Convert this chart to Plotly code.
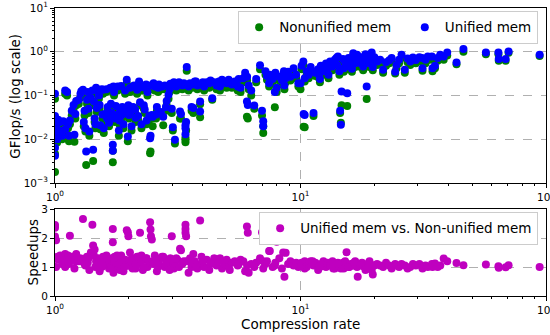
import plotly.graph_objects as go

# ---- data ----
compression_rate = [
    1.00, 1.00, 1.00, 1.00, 1.01, 1.01, 1.02, 1.03, 1.04, 1.05, 1.07, 1.08, 1.10, 1.12, 1.10, 1.13, 1.15, 1.14, 1.17, 1.19, 1.20, 1.21, 1.22, 1.25,
    1.27, 1.30, 1.31, 1.33, 1.34, 1.36, 1.37, 1.38, 1.40, 1.42, 1.43, 1.44, 1.45, 1.47, 1.48, 1.50, 1.52, 1.53, 1.55, 1.57, 1.58,
    1.60, 1.62, 1.64, 1.66, 1.68, 1.70, 1.72, 1.72, 1.73, 1.75, 1.77, 1.80, 1.82, 1.84, 1.86, 1.88, 1.90, 1.93, 1.96, 1.98, 1.99, 2.00, 2.02, 2.05, 2.08,
    2.10, 2.13, 2.16, 2.20, 2.22, 2.25, 2.28, 2.32, 2.35, 2.38, 2.42, 2.44, 2.45, 2.46, 2.48, 2.50, 2.55, 2.60, 2.65, 2.70, 2.76, 2.80, 2.85, 2.90, 2.95, 2.99, 3.02, 3.05,
    3.08, 3.15, 3.23, 3.26, 3.30, 3.40, 3.40, 3.40, 3.42, 3.44, 3.50, 3.55, 3.60, 3.66, 3.71, 3.80, 3.90, 3.90, 3.95, 4.05, 4.15, 4.25, 4.37, 4.45, 4.55, 4.65, 4.79,
    4.90, 5.00, 5.10, 5.25, 5.40, 5.55, 5.70, 5.85, 5.95, 6.05, 6.10, 6.06, 6.15, 6.30, 6.48, 6.60, 6.84, 6.97, 7.05, 7.05, 7.20, 7.30, 7.45, 7.50,
    7.70, 7.86, 7.90, 8.00, 8.20, 8.40, 8.50, 8.56, 8.60, 8.70, 8.90, 9.10, 9.37, 9.60, 9.80,
    10.0, 10.1, 10.27, 10.3, 10.4, 10.4, 10.6, 10.8, 11.0, 11.3, 11.5, 11.8, 12.0, 12.1, 12.4, 12.7, 12.9, 13.0,
    13.2, 13.5, 13.8, 14.1, 14.2, 14.4, 14.5, 14.6, 14.7, 14.9, 15.0, 15.2, 15.4, 15.5, 15.7, 16.0, 16.2, 16.4, 16.7, 17.0, 17.1, 17.4, 17.8, 18.0, 18.2, 18.6, 18.8, 19.1, 19.3, 19.5, 19.7, 19.9,
    20.5, 21.1, 21.7, 22.3, 23.0, 23.5, 24.3, 24.6, 25.2, 25.8, 26.6, 27.3, 28.0, 28.7, 29.5, 30.5, 31.3, 31.4, 32.3, 33.0, 34.3, 34.5, 35.3, 36.2, 37.1, 38.3, 39.6,
    43.2, 46.1, 56.9, 64.0, 64.2, 68.5, 70.4, 94.2,
    1.28, 1.32, 1.35, 1.46, 1.51, 1.56, 1.63, 1.69, 1.74, 1.79, 1.83, 1.87, 1.92, 2.03, 2.07, 2.12, 2.18, 2.24, 2.30, 2.36, 2.52, 2.58, 2.63,
    2.73, 2.83, 2.93, 3.12, 3.20, 3.35, 3.62, 3.75, 4.00, 4.30, 4.70, 5.15, 5.60, 11.2, 11.9, 13.6, 14.0, 15.8, 16.5, 17.6, 18.4, 19.0, 20.0,
]

gflops_nonunified = [
    0.0018, 0.0047, 0.085, 0.028, 0.016, 0.011, 0.0085, 0.022, 0.013, 0.019, 0.010, 0.020, 0.11, 0.10, 0.014, 0.018, 0.022, 0.009, 0.035, 0.050, 0.0088, 0.030, 0.060, 0.065,
    0.09, 0.11, 0.02, 0.015, 0.0026, 0.10, 0.04, 0.012, 0.07, 0.11, 0.0032, 0.060, 0.025, 0.13, 0.042, 0.10, 0.05, 0.017, 0.12, 0.11, 0.014,
    0.030, 0.12, 0.045, 0.020, 0.13, 0.033, 0.0030, 0.0055, 0.12, 0.025, 0.048, 0.13, 0.012, 0.035, 0.14, 0.045, 0.018, 0.11, 0.19, 0.009, 0.05, 0.03, 0.12, 0.016, 0.045,
    0.14, 0.025, 0.11, 0.17, 0.06, 0.018, 0.13, 0.04, 0.15, 0.10, 0.028, 0.0048, 0.0053, 0.14, 0.030, 0.020, 0.13, 0.045, 0.15, 0.035, 0.021, 0.14, 0.06, 0.085, 0.15, 0.04, 0.016, 0.17,
    0.008, 0.15, 0.030, 0.030, 0.14, 0.0086, 0.0098, 0.011, 0.016, 0.37, 0.13, 0.16, 0.045, 0.040, 0.17, 0.14, 0.032, 0.063, 0.15, 0.13, 0.17, 0.15, 0.08, 0.16, 0.14, 0.17, 0.19,
    0.17, 0.15, 0.20, 0.15, 0.17, 0.13, 0.12, 0.20, 0.27, 0.033, 0.030, 0.22, 0.14, 0.10, 0.05, 0.20, 0.40, 0.035, 0.020, 0.014, 0.30, 0.23, 0.16, 0.25,
    0.20, 0.054, 0.28, 0.12, 0.22, 0.18, 0.25, 0.30, 0.14, 0.20, 0.30, 0.22, 0.35, 0.25, 0.16,
    0.14, 0.40, 0.50, 0.0195, 0.21, 0.019, 0.30, 0.25, 0.38, 0.034, 0.28, 0.33, 0.20, 0.40, 0.30, 0.45, 0.35, 0.25,
    0.50, 0.38, 0.55, 0.42, 0.65, 0.30, 0.040, 0.024, 0.060, 0.55, 0.35, 0.48, 0.40, 0.058, 0.60, 0.52, 0.35, 0.78, 0.45, 0.70, 0.55, 0.62, 0.50, 0.38, 0.65, 0.083, 0.55, 0.45, 0.70, 0.80, 0.38, 0.60,
    0.50, 0.55, 0.33, 0.48, 0.55, 0.60, 0.32, 0.42, 0.55, 0.72, 0.33, 0.58, 0.50, 0.62, 0.55, 0.62, 0.60, 0.37, 0.55, 0.65, 0.66, 0.36, 0.42, 0.62, 0.72, 0.66, 0.82,
    0.52, 1.00, 0.88, 0.88, 0.62, 0.62, 0.95, 0.80,
    0.10, 0.035, 0.065, 0.018, 0.085, 0.030, 0.025, 0.055, 0.10, 0.030, 0.022, 0.030, 0.038, 0.035, 0.13, 0.040, 0.028, 0.13, 0.05, 0.022, 0.17, 0.030, 0.12,
    0.14, 0.045, 0.12, 0.13, 0.17, 0.15, 0.15, 0.18, 0.17, 0.18, 0.13, 0.16, 0.20, 0.30, 0.25, 0.45, 0.60, 0.45, 0.60, 0.45, 0.75, 0.62, 0.62,
]

gflops_unified = [
    0.0042, 0.0064, 0.110, 0.034, 0.020, 0.013, 0.010, 0.028, 0.016, 0.025, 0.012, 0.026, 0.13, 0.12, 0.017, 0.022, 0.027, 0.012, 0.045, 0.061, 0.0128, 0.038, 0.075, 0.080,
    0.11, 0.135, 0.025, 0.018, 0.0053, 0.12, 0.05, 0.015, 0.088, 0.13, 0.0058, 0.073, 0.030, 0.15, 0.052, 0.12, 0.061, 0.021, 0.14, 0.135, 0.018,
    0.038, 0.14, 0.055, 0.024, 0.15, 0.040, 0.0055, 0.0075, 0.16, 0.030, 0.058, 0.16, 0.016, 0.043, 0.165, 0.055, 0.022, 0.13, 0.23, 0.0116, 0.06, 0.036, 0.15, 0.020, 0.055,
    0.17, 0.031, 0.135, 0.21, 0.07, 0.022, 0.155, 0.048, 0.18, 0.12, 0.034, 0.0106, 0.012, 0.17, 0.036, 0.033, 0.16, 0.055, 0.18, 0.042, 0.033, 0.17, 0.075, 0.104, 0.185, 0.05, 0.019, 0.20,
    0.0098, 0.18, 0.043, 0.038, 0.17, 0.021, 0.018, 0.013, 0.025, 0.45, 0.16, 0.19, 0.055, 0.052, 0.21, 0.17, 0.043, 0.073, 0.18, 0.16, 0.20, 0.19, 0.087, 0.20, 0.17, 0.21, 0.23,
    0.21, 0.19, 0.23, 0.18, 0.21, 0.16, 0.15, 0.25, 0.33, 0.073, 0.061, 0.27, 0.17, 0.13, 0.059, 0.24, 0.49, 0.045, 0.026, 0.020, 0.36, 0.28, 0.19, 0.30,
    0.24, 0.12, 0.33, 0.15, 0.27, 0.22, 0.30, 0.36, 0.17, 0.25, 0.35, 0.27, 0.42, 0.30, 0.19,
    0.19, 0.48, 0.60, 0.038, 0.25, 0.036, 0.36, 0.30, 0.45, 0.040, 0.33, 0.40, 0.24, 0.48, 0.36, 0.54, 0.42, 0.30,
    0.60, 0.46, 0.66, 0.50, 0.78, 0.36, 0.045, 0.0215, 0.124, 0.68, 0.42, 0.58, 0.47, 0.113, 0.72, 0.62, 0.41, 0.93, 0.55, 0.85, 0.66, 0.75, 0.60, 0.46, 0.78, 0.16, 0.66, 0.55, 0.82, 0.96, 0.45, 0.70,
    0.60, 0.66, 0.39, 0.58, 0.64, 0.72, 0.35, 0.50, 0.66, 0.85, 0.39, 0.70, 0.60, 0.74, 0.65, 0.75, 0.72, 0.42, 0.66, 0.78, 0.78, 0.42, 0.48, 0.72, 0.85, 0.78, 0.96,
    0.57, 1.15, 0.96, 0.96, 0.68, 0.68, 1.02, 0.85,
    0.125, 0.045, 0.080, 0.022, 0.100, 0.037, 0.030, 0.065, 0.12, 0.036, 0.027, 0.036, 0.046, 0.042, 0.16, 0.048, 0.034, 0.16, 0.060, 0.027, 0.19, 0.037, 0.15,
    0.16, 0.055, 0.14, 0.16, 0.20, 0.19, 0.18, 0.21, 0.20, 0.22, 0.16, 0.19, 0.24, 0.36, 0.30, 0.55, 0.72, 0.55, 0.72, 0.55, 0.88, 0.74, 0.75,
]

speedups = [
    2.45, 2.35, 1.30, 2.05, 1.92, 1.00, 1.35, 1.25, 1.30, 1.40, 1.10, 1.35, 1.45, 1.25, 1.00, 1.40, 2.08, 1.10, 1.35, 1.30, 0.95, 1.20, 1.45, 1.20,
    1.30, 2.66, 1.25, 1.05, 1.30, 1.15, 1.30, 0.90, 1.50, 2.46, 1.74, 1.40, 1.60, 1.20, 1.10, 1.30, 0.85, 1.15, 1.00, 1.35, 1.05,
    1.25, 1.40, 1.20, 0.95, 1.10, 1.30, 2.31, 1.85, 0.80, 1.35, 1.20, 1.00, 1.30, 0.90, 1.40, 1.10, 0.85, 1.25, 2.27, 2.20, 2.06, 1.15, 1.50, 1.00, 1.30,
    1.20, 0.95, 1.35, 1.10, 2.18, 1.40, 0.90, 1.25, 1.30, 1.00, 1.15, 2.54, 2.29, 2.06, 1.95, 1.20, 1.40, 0.85, 1.10, 1.30, 1.35, 1.00, 1.20, 1.15, 1.30, 2.06, 1.10, 0.95,
    1.05, 1.25, 1.63, 1.58, 1.10, 2.46, 2.31, 2.18, 2.06, 1.20, 0.80, 1.30, 1.00, 1.45, 1.20, 0.95, 2.60, 1.10, 1.35, 1.00, 1.25, 0.90, 1.15, 1.30, 1.05, 1.20, 0.95,
    1.10, 1.25, 1.00, 1.15, 1.20, 1.05, 1.25, 1.20, 0.85, 2.40, 2.18, 1.05, 0.80, 1.10, 1.00, 1.15, 1.30, 2.20, 1.20, 0.95, 1.10, 1.20, 1.55, 1.55,
    1.00, 1.05, 1.15, 1.87, 1.30, 0.95, 1.50, 2.37, 0.66, 1.49, 1.10, 1.20, 1.05, 1.15, 1.00,
    1.05, 1.15, 2.00, 1.10, 0.95, 1.20, 1.00, 1.10, 1.20, 1.05, 1.15, 0.90, 1.00, 1.10, 1.20, 1.00, 1.15, 1.10,
    1.05, 1.20, 0.95, 1.10, 1.15, 1.00, 1.05, 0.95, 1.95, 1.15, 0.95, 1.20, 1.51, 1.92, 1.00, 1.10, 1.05, 1.05, 1.20, 1.00, 0.66, 1.10, 1.15, 1.10, 1.00, 1.95, 1.10, 1.20, 1.00, 0.90, 0.74, 1.05,
    1.10, 1.05, 1.00, 1.15, 1.05, 0.95, 1.10, 1.05, 1.00, 1.10, 1.05, 0.95, 1.00, 1.10, 1.05, 1.10, 1.00, 0.95, 1.05, 1.00, 1.10, 1.00, 1.12, 1.00, 1.05, 1.29, 1.20,
    1.14, 1.06, 1.09, 1.03, 0.97, 0.99, 1.06, 1.00,
    1.20, 1.10, 1.35, 1.00, 1.25, 1.15, 1.30, 1.00, 1.20, 1.40, 1.10, 1.20, 1.00, 1.25, 0.95, 1.10, 1.35, 1.20, 1.00, 1.30, 1.10, 1.25, 1.00,
    1.35, 1.10, 0.90, 1.30, 1.00, 1.20, 1.10, 1.00, 1.20, 1.10, 1.30, 0.90, 1.10, 1.20, 1.00, 0.95, 1.10, 1.00, 1.15, 1.05, 0.90, 1.10, 1.05,
]

x_tickvals = [1, 10, 100]
x_ticktext = ["10<sup>0</sup>", "10<sup>1</sup>", "10<sup>2</sup>"]
y_tickvals = [0.001, 0.01, 0.1, 1, 10]
y_ticktext = ["10<sup>−3</sup>", "10<sup>−2</sup>", "10<sup>−1</sup>", "10<sup>0</sup>", "10<sup>1</sup>"]
s_tickvals = [0, 1, 2, 3]

FONT = "DejaVu Sans"
GREEN = "#008000"
BLUE = "#0000ff"
MAGENTA = "#bf00bf"
NB = "\u00a0"

fig = go.Figure()
fig.add_trace(go.Scatter(x=compression_rate, y=gflops_nonunified, mode="markers",
                         name="Nonunified mem" + NB * 2, marker=dict(color=GREEN, size=8),
                         xaxis="x", yaxis="y", legend="legend"))
fig.add_trace(go.Scatter(x=compression_rate, y=gflops_unified, mode="markers",
                         name="Unified mem", marker=dict(color=BLUE, size=8),
                         xaxis="x", yaxis="y", legend="legend"))
fig.add_trace(go.Scatter(x=compression_rate, y=speedups, mode="markers",
                         name="Unified mem vs. Non-unified mem", marker=dict(color=MAGENTA, size=8),
                         xaxis="x2", yaxis="y2", legend="legend2"))

axis_common = dict(showline=True, linecolor="black", linewidth=1, mirror=True,
                   ticks="outside", ticklen=4, tickcolor="black",
                   showgrid=True, gridcolor="#b0b0b0", griddash="dash", gridwidth=1,
                   zeroline=False, tickfont=dict(family=FONT, size=10.5, color="black"),
                   ticklabeloverflow="allow", automargin=False)
minor_log = dict(ticks="outside", ticklen=2, tickcolor="black", dtick="D1", showgrid=False)

XR = [0, 2]

fig.update_layout(
    width=550, height=335,
    margin=dict(l=55, r=4, t=8, b=39, autoexpand=False),
    paper_bgcolor="white", plot_bgcolor="white",
    font=dict(family=FONT, color="black"),
    xaxis=dict(type="log", range=XR, domain=[0, 1], anchor="y",
               tickvals=x_tickvals, ticktext=x_ticktext, minor=minor_log, **axis_common),
    yaxis=dict(type="log", range=[-3, 1], domain=[0.392, 1.0], anchor="x",
               tickvals=y_tickvals, ticktext=y_ticktext, minor=minor_log, **axis_common),
    xaxis2=dict(type="log", range=XR, domain=[0, 1], anchor="y2",
                tickvals=x_tickvals, ticktext=x_ticktext, minor=minor_log, **axis_common),
    yaxis2=dict(range=[0, 3], domain=[0, 0.302], anchor="x2",
                tickvals=s_tickvals, **axis_common),
    legend=dict(orientation="h", x=0.984, xanchor="right", y=0.99, yanchor="top",
                bgcolor="white", bordercolor="#cccccc", borderwidth=1,
                font=dict(family=FONT, size=13.5, color="black")),
    legend2=dict(orientation="h", x=0.984, xanchor="right", y=0.292, yanchor="top",
                 bgcolor="white", bordercolor="#cccccc", borderwidth=1,
                 font=dict(family=FONT, size=13.5, color="black")),
    showlegend=True,
    annotations=[
        dict(text="GFlop/s (log scale)", textangle=-90, xref="paper", yref="paper",
             x=-0.0815, y=0.695, xanchor="center", yanchor="middle", showarrow=False,
             font=dict(family=FONT, size=13.5, color="black")),
        dict(text="Speedups", textangle=-90, xref="paper", yref="paper",
             x=-0.045, y=0.151, xanchor="center", yanchor="middle", showarrow=False,
             font=dict(family=FONT, size=13.5, color="black")),
        dict(text="Compression rate", xref="paper", yref="paper",
             x=0.5, y=-0.096, xanchor="center", yanchor="middle", showarrow=False,
             font=dict(family=FONT, size=13.5, color="black")),
    ],
)

fig.write_html("out.html")
